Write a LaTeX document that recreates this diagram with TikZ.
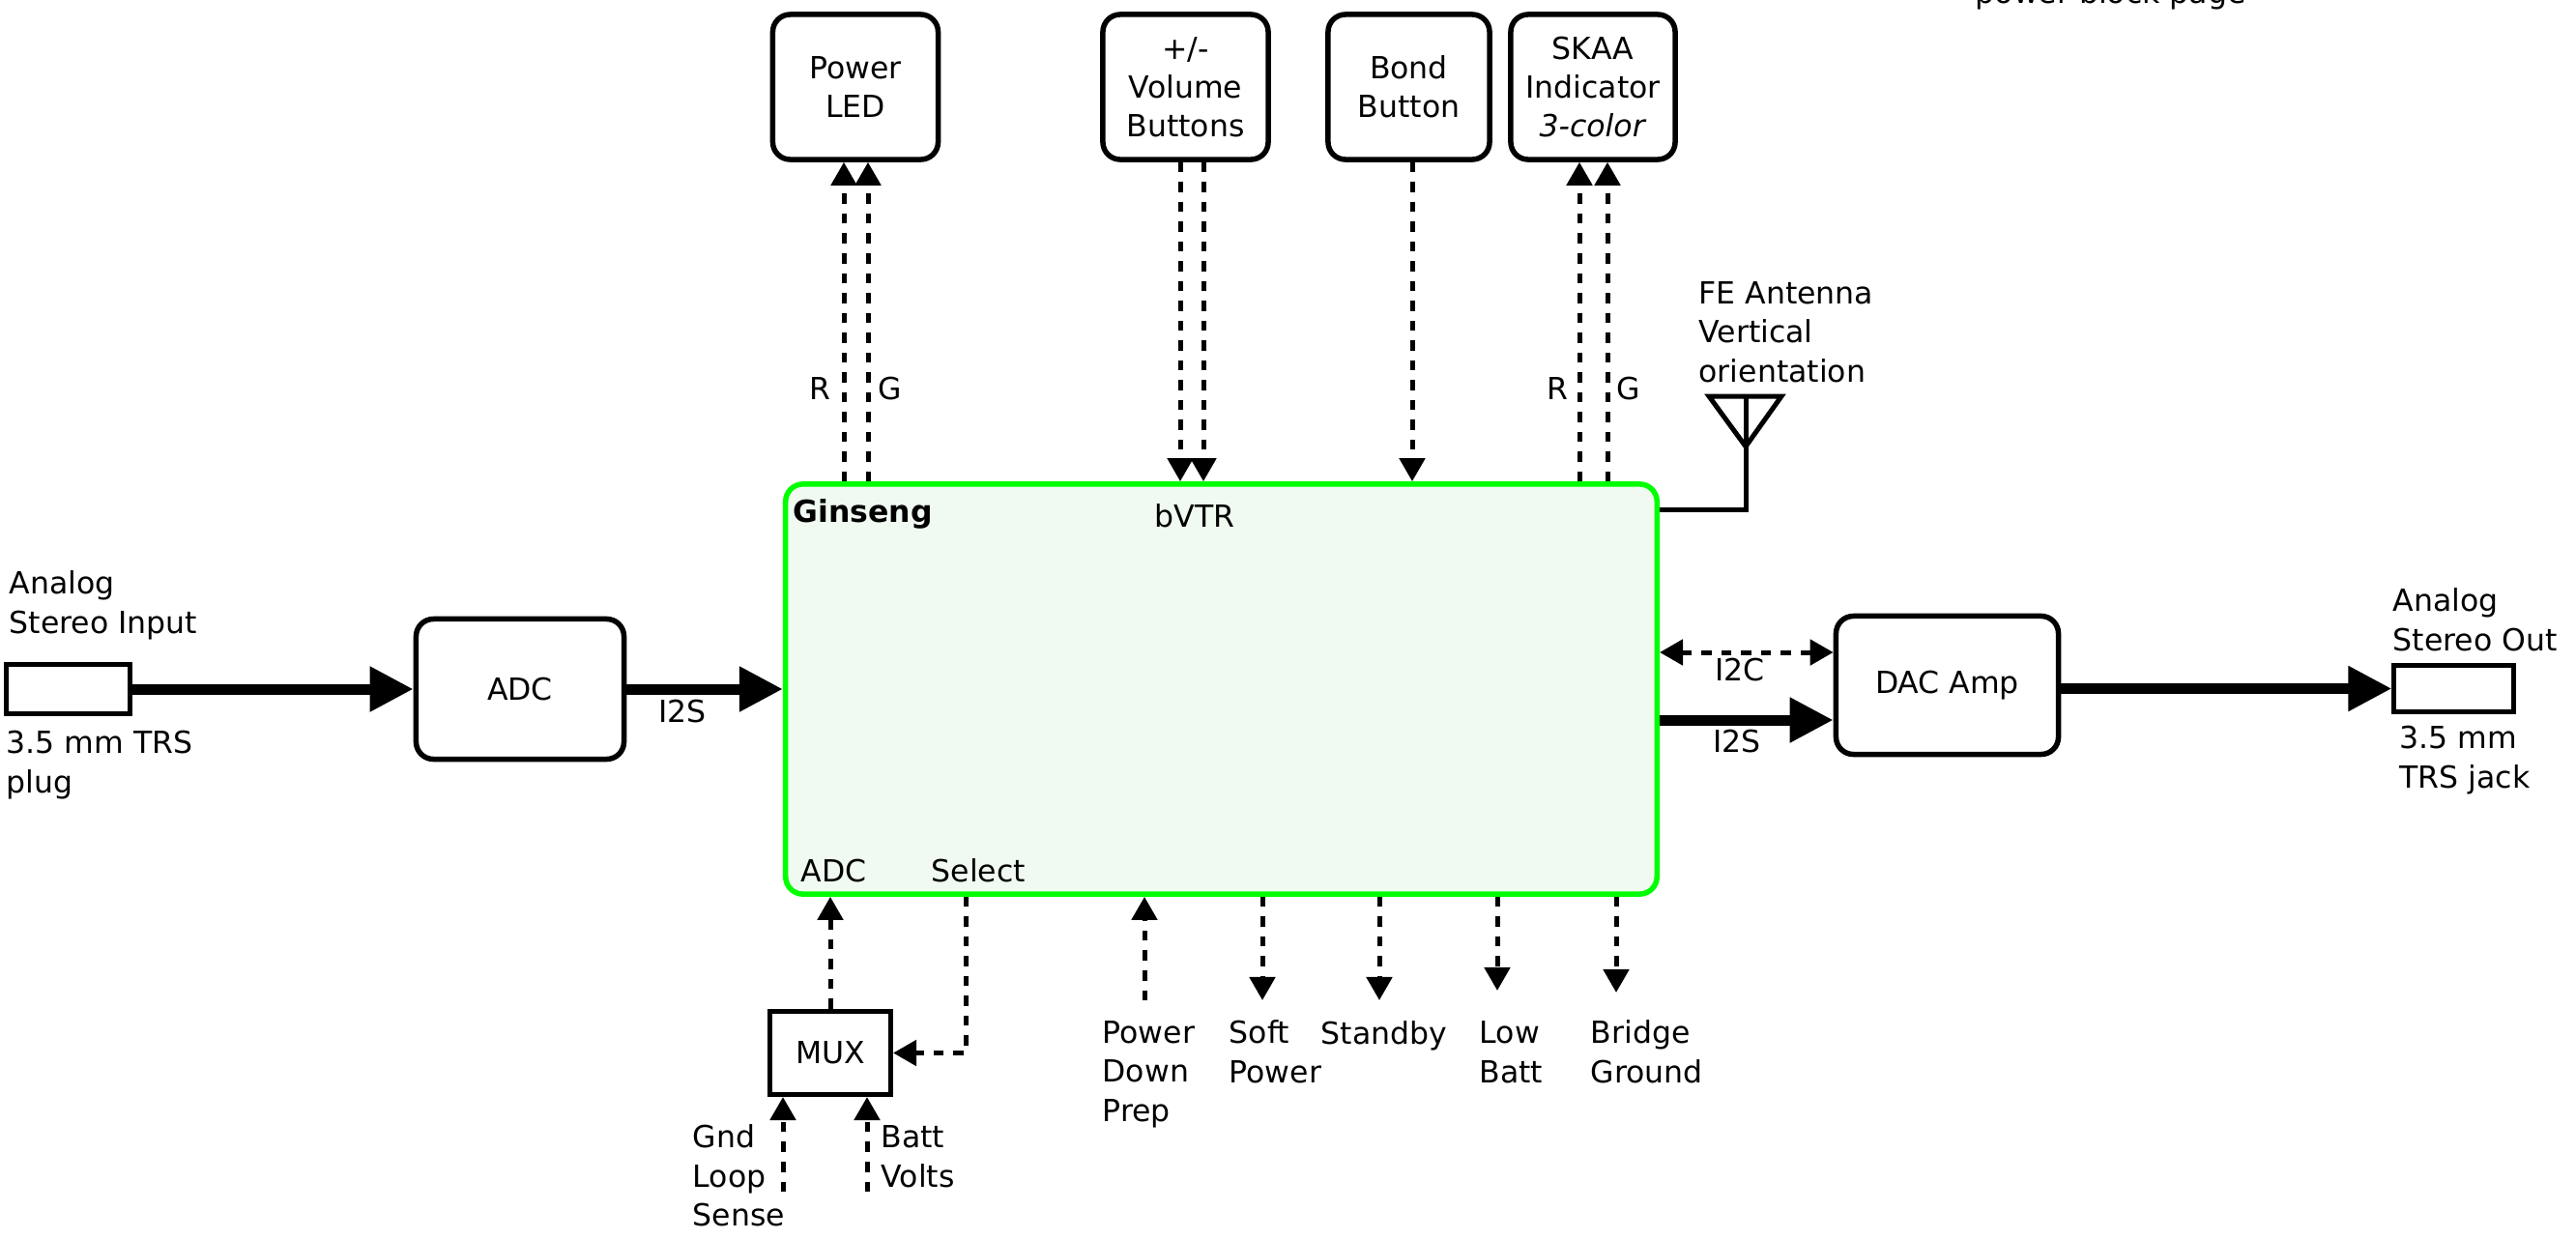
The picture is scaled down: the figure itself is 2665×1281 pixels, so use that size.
\documentclass[tikz,border=0pt]{standalone}
\usepackage{fontspec}
\setmainfont{DejaVu Sans}
\usetikzlibrary{arrows.meta,calc}
\definecolor{gsgreen}{RGB}{0,255,0}
\definecolor{gsfill}{RGB}{240,250,240}
\begin{document}
\begin{tikzpicture}[x=0.01cm,y=-0.01cm,
  font=\fontsize{8.96}{11.38}\selectfont,
  blk/.style={draw, line width=0.055cm, rounded corners=0.18cm, align=center, inner sep=0pt},
  sqbox/.style={draw, line width=0.05cm, inner sep=0pt},
  dar/.style={line width=0.05cm, dash pattern=on 0.105cm off 0.1cm, -{Triangle[length=0.24cm,width=0.26cm]}},
  dbl/.style={line width=0.05cm, dash pattern=on 0.105cm off 0.1cm, {Triangle[length=0.24cm,width=0.26cm]}-{Triangle[length=0.24cm,width=0.26cm]}},
  tar/.style={line width=0.11cm, -{Triangle[length=0.45cm,width=0.44cm]}},
  lbl/.style={inner sep=0pt, align=left, anchor=base west},
  lblc/.style={inner sep=0pt, anchor=base},
  lble/.style={inner sep=0pt, anchor=base east},
]
\useasboundingbox (0,0) rectangle (2665,1281);

% blocks
\node[blk, minimum width=1.71cm, minimum height=1.50cm] (PL) at (885,90) {Power\\LED};
\node[blk, minimum width=1.71cm, minimum height=1.50cm] (VB) at (1226.5,90) {+/-\\Volume\\Buttons};
\node[blk, minimum width=1.67cm, minimum height=1.50cm] (BB) at (1457.5,90) {Bond\\Button};
\node[blk, minimum width=1.70cm, minimum height=1.50cm] (SK) at (1648,90) {SKAA\\Indicator\\\textit{3-color}};
\node[blk, draw=gsgreen, fill=gsfill, minimum width=9.01cm, minimum height=4.24cm] (GS) at (1263.5,713) {};
\node[blk, minimum width=2.15cm, minimum height=1.45cm] (ADC) at (538,713) {ADC};
\node[blk, minimum width=2.30cm, minimum height=1.43cm] (DAC) at (2014.5,709) {DAC Amp};
\node[sqbox, minimum width=1.25cm, minimum height=0.86cm] (MUX) at (859,1089.5) {MUX};
\node[sqbox, minimum width=1.27cm, minimum height=0.50cm] (PLUG) at (70.5,713) {};
\node[sqbox, minimum width=1.23cm, minimum height=0.47cm] (JACK) at (2538.5,712.5) {};

% antenna
\coordinate (ANT) at (1806,410);
\draw[line width=0.05cm] (1768,410) -- (1843,410) -- (1806,462) -- cycle;
\draw[line width=0.05cm] (GS.east |- 0,527) -| (ANT);

% thick signal arrows
\draw[tar] (PLUG.east) -- (ADC.west);
\draw[tar] (ADC.east) -- (GS.west |- ADC.east);
\draw[tar] (GS.east |- 0,745) -- (DAC.west |- 0,745);
\draw[dbl] (GS.east |- 0,675) -- (DAC.west |- 0,675);
\draw[tar] (DAC.east |- JACK.west) -- (JACK.west);

% top dashed arrows
\draw[dar] (GS.north -| 873,0) -- (PL.south -| 873,0);
\draw[dar] (GS.north -| 898,0) -- (PL.south -| 898,0);
\draw[dar] (VB.south -| 1221,0) -- (GS.north -| 1221,0);
\draw[dar] (VB.south -| 1245,0) -- (GS.north -| 1245,0);
\draw[dar] (BB.south -| 1461,0) -- (GS.north -| 1461,0);
\draw[dar] (GS.north -| 1634,0) -- (SK.south -| 1634,0);
\draw[dar] (GS.north -| 1663,0) -- (SK.south -| 1663,0);

% bottom dashed arrows
\draw[dar] (MUX.north) -- (MUX.north |- GS.south);
\draw[dar] (GS.south -| 999,0) |- (MUX.east);
\coordinate (PDP) at (1184,1035);
\coordinate (SP) at (1306,1035);
\coordinate (SB) at (1427,1035);
\coordinate (LB) at (1549,1025);
\coordinate (BG) at (1672,1027);
\coordinate (GND) at (810,1233);
\coordinate (BAT) at (897,1233);
\draw[dar] (PDP) -- (PDP |- GS.south);
\draw[dar] (SP |- GS.south) -- (SP);
\draw[dar] (SB |- GS.south) -- (SB);
\draw[dar] (LB |- GS.south) -- (LB);
\draw[dar] (BG |- GS.south) -- (BG);
\draw[dar] (GND) -- (GND |- MUX.south);
\draw[dar] (BAT) -- (BAT |- MUX.south);

% labels (multi-line: anchor is the baseline of the last line)
\node[lbl] (tPB) at (2043,3) {power block page};
\node[lbl] (tGS) at (820,540) {\textbf{Ginseng}};
\node[lblc] (tBV) at (1236,545) {bVTR};
\node[lbl] (tADC) at (828,912) {ADC};
\node[lbl] (tSEL) at (963,912) {Select};
\node[lble] (tR1) at (860,413) {R};
\node[lbl] (tG1) at (908,413) {G};
\node[lble] (tR2) at (1623,413) {R};
\node[lbl] (tG2) at (1672,413) {G};
\node[lbl] (tIN) at (9,655) {Analog\\Stereo Input};
\node[lbl] (tPLUG) at (6,820) {3.5 mm TRS\\plug};
\node[lblc] (tI2S1) at (706,747) {I2S};
\node[lbl] (tFE) at (1757,395) {FE Antenna\\Vertical\\orientation};
\node[lblc] (tI2C) at (1800,704) {I2C};
\node[lblc] (tI2S2) at (1797,778) {I2S};
\node[lbl] (tOUT) at (2475,673) {Analog\\Stereo Out};
\node[lbl] (tJACK) at (2482,815) {3.5 mm\\TRS jack};
\node[lbl] (tGND) at (716,1268) {Gnd\\Loop\\Sense};
\node[lbl] (tBAT) at (911,1228) {Batt\\Volts};
\node[lbl] (tPDP) at (1140,1160) {Power\\Down\\Prep};
\node[lbl] (tSP) at (1271,1120) {Soft\\Power};
\node[lbl] (tSB) at (1366,1080) {Standby};
\node[lbl] (tLB) at (1530,1120) {Low\\Batt};
\node[lbl] (tBG) at (1645,1120) {Bridge\\Ground};
\end{tikzpicture}
\end{document}
